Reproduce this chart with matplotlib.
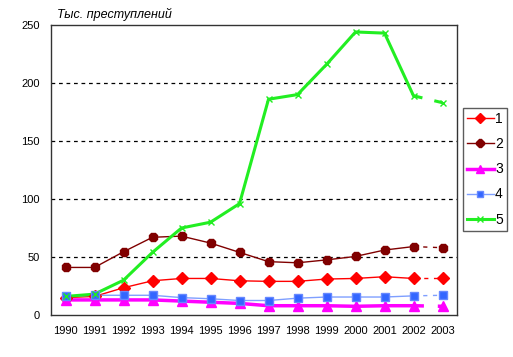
import matplotlib
matplotlib.use('Agg')
import matplotlib.pyplot as plt
from matplotlib.lines import Line2D

plt.rcParams['font.family'] = ['Liberation Sans', 'DejaVu Sans']

years = [1990, 1991, 1992, 1993, 1994, 1995, 1996, 1997, 1998, 1999, 2000, 2001, 2002, 2003]
s1 = [15, 16, 23.5, 29.5, 31.5, 31.5, 29.5, 29, 29, 31, 31.5, 33, 31.5, 31.5]
s2 = [41, 41, 54.5, 67, 68, 62, 54, 46, 45, 47.5, 50.5, 56, 59, 58]
s3 = [13, 13, 13, 13, 12, 11, 10, 8, 8, 8, 7.5, 8, 8, 7.5]
s4 = [16, 17, 17, 17, 15, 14, 12.5, 12.5, 14.5, 15.5, 15.5, 15.5, 16.5, 17]
s5 = [16, 18, 30, 54, 75, 80, 96, 186, 190, 216, 244, 243, 189, 183]
labels = ['1', '2', '3', '4', '5']

styles = [
    dict(color='#FF0000', lw=1, marker='D', ms=6, mfc='#FF0000', mec='#FF0000'),
    dict(color='#800000', lw=1, marker='8', ms=7, mfc='#800000', mec='#800000'),
    dict(color='#FF00FF', lw=2.5, marker='^', ms=7, mfc='#FF00FF', mec='#FF00FF'),
    dict(color='#7F9FFF', lw=1, marker='s', ms=6, mfc='#3366FF', mec='#6688FF'),
    dict(color='#22EE22', lw=2.2, marker='x', ms=5, mfc='#22EE22', mec='#22EE22'),
]

fig = plt.figure(figsize=(5.13, 3.57), dpi=100)
ax = fig.add_axes([51 / 513, 1 - 315 / 357, 406 / 513, 290 / 357])

x = list(range(len(years)))
handles = []
for vals, st, lab in zip([s1, s2, s3, s4, s5], styles, labels):
    # solid part up to 2002, dashed last segment
    ax.plot(x[:-1], vals[:-1], color=st['color'], lw=st['lw'], zorder=3)
    ax.plot(x[-2:], vals[-2:], color=st['color'], lw=st['lw'], ls=(0, (3, 4)), zorder=3)
    ax.plot(x, vals, ls='none', marker=st['marker'], ms=st['ms'],
            mfc=st['mfc'], mec=st['mec'], zorder=4)
    handles.append(Line2D([], [], **st, label=lab))

ax.set_xlim(-0.5, len(years) - 0.5)
ax.set_ylim(0, 250)
ax.set_yticks([0, 50, 100, 150, 200, 250])
ax.set_xticks(x)
ax.set_xticklabels([str(y) for y in years])
ax.tick_params(length=0, labelsize=8, pad=8)
ax.tick_params(axis='y', pad=8)
for yv in [50, 100, 150, 200]:
    ax.axhline(yv, color='black', lw=0.9, ls=(0, (3, 3)), zorder=1)
for sp in ax.spines.values():
    sp.set_color('#333333')
    sp.set_linewidth(1)

fig.text(57 / 513, 1 - 14 / 357, 'Тыс. преступлений', fontsize=9, style='italic',
         va='center', ha='left')

leg = fig.legend(handles=handles, loc='upper left',
                 bbox_to_anchor=(463 / 513, 1 - 108 / 357), fontsize=10,
                 frameon=True, fancybox=False, edgecolor='#333333',
                 handlelength=1.9, handletextpad=0.1, labelspacing=0.8,
                 borderpad=0.3, borderaxespad=0, markerscale=0.8)
leg.get_frame().set_linewidth(1)

fig.savefig('out.png', dpi=100)
